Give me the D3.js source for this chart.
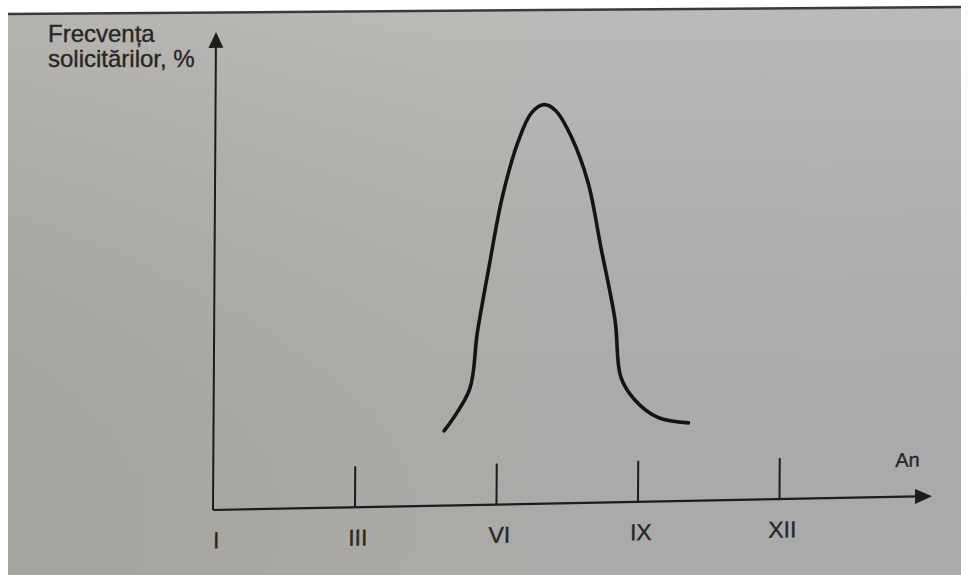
<!DOCTYPE html>
<html>
<head>
<meta charset="utf-8">
<script src="https://cdn.jsdelivr.net/npm/d3@7"></script>
<style>
  html, body { margin: 0; padding: 0; background: #fff; }
  svg { display: block; }
  text { font-family: "Liberation Sans", Arial, sans-serif; fill: #262626; stroke: #262626; stroke-width: 0.35px; }
</style>
</head>
<body>
<div id="chart"></div>
<script>
// tick labels (roman months) and their month numbers
const months = ['I', 'III', 'VI', 'IX', 'XII']
const monthNum = [1, 3, 6, 9, 12]

// curve: month -> request frequency (arbitrary %)
const curveMonth = [4.89, 5.42, 5.58, 5.82, 6.09, 6.43, 6.70, 6.96, 7.21, 7.55, 7.91, 8.19, 8.50, 8.63, 8.93, 9.42, 10.07]
const curveFreq = [15.9, 24.5, 36.6, 50.6, 65.3, 77.4, 83.2, 84.9, 83.6, 77.9, 68.1, 54.3, 38.7, 26.6, 21.7, 17.9, 16.6]

const width = 969, height = 575
const origin = { x: 213, y: 510 }
const step = 141.5          // ticks are evenly spaced, not linear in month
const xAxisLen = 719, yAxisLen = 478

const svg = d3.select('#chart').append('svg')
  .attr('width', width).attr('height', height)

/** photo background */
const defs = svg.append('defs')
const grad = defs.append('linearGradient').attr('id', 'paper')
  .attr('x1', 0).attr('x2', 1).attr('y1', 0).attr('y2', 0)
grad.append('stop').attr('offset', 0).attr('stop-color', '#acaaa4')
grad.append('stop').attr('offset', 0.45).attr('stop-color', '#b2b1ae')
grad.append('stop').attr('offset', 1).attr('stop-color', '#b1b1b4')
const shade = defs.append('linearGradient').attr('id', 'shade')
  .attr('x1', 0).attr('x2', 0).attr('y1', 0).attr('y2', 1)
shade.append('stop').attr('offset', 0).attr('stop-color', '#fff').attr('stop-opacity', 0.12)
shade.append('stop').attr('offset', 1).attr('stop-color', '#000').attr('stop-opacity', 0.04)

svg.append('rect').attr('width', width).attr('height', height).attr('fill', '#fff')
svg.append('path')
  .attr('d', 'M8,14 L961,7 L961,575 L8,575 Z')
  .attr('fill', 'url(#paper)')
svg.append('path')
  .attr('d', 'M8,14 L961,7 L961,575 L8,575 Z')
  .attr('fill', 'url(#shade)')
svg.append('path')
  .attr('d', 'M8,14 L961,7')
  .attr('stroke', '#3a3a3a').attr('stroke-width', 2.5)

/** chart group, slightly skewed like the photographed page */
const g = svg.append('g')
  .attr('transform', `translate(${origin.x},${origin.y}) skewY(-1.1) skewX(-0.36)`)

const x = d3.scaleLinear()
  .domain(monthNum)
  .range(monthNum.map((d, i) => i * step))

const y = d3.scaleLinear()
  .domain([0, 100])
  .range([0, -470])

// x axis with ticks pointing up, labels below
const xAxis = d3.axisBottom(x)
  .tickValues(monthNum)
  .tickFormat((d, i) => months[i])
  .tickSize(-41)
  .tickSizeOuter(0)
  .tickPadding(22)

const axisG = g.append('g').call(xAxis)
axisG.select('.domain').remove()
axisG.selectAll('.tick line')
  .attr('stroke', (d, i) => i === 0 ? 'none' : '#1c1c1c')
  .attr('stroke-width', 2)
axisG.selectAll('.tick text')
  .attr('font-size', 23)
  .attr('dx', 3)
  .attr('font-family', '"Liberation Sans", Arial, sans-serif')
  .attr('fill', '#262626')

// axis lines with arrows
g.append('line')
  .attr('x1', 0).attr('y1', 0).attr('x2', xAxisLen - 14).attr('y2', 0)
  .attr('stroke', '#1c1c1c').attr('stroke-width', 2.2)
g.append('path')
  .attr('d', `M${xAxisLen},0 L${xAxisLen - 17},-7.5 L${xAxisLen - 17},7.5 Z`)
  .attr('fill', '#1c1c1c')

g.append('line')
  .attr('x1', 0).attr('y1', 0).attr('x2', 0).attr('y2', -(yAxisLen - 12))
  .attr('stroke', '#1c1c1c').attr('stroke-width', 2)
g.append('path')
  .attr('d', `M0,${-yAxisLen} L-7.5,${-yAxisLen + 16} L7.5,${-yAxisLen + 16} Z`)
  .attr('fill', '#1c1c1c')

// axis titles
g.append('text')
  .attr('x', xAxisLen - 37).attr('y', -30)
  .attr('font-size', 20)
  .text('An')

svg.append('text')
  .attr('x', 48).attr('y', 42)
  .attr('font-size', 24)
  .text('Frecvența')
svg.append('text')
  .attr('x', 48).attr('y', 67)
  .attr('font-size', 24)
  .text('solicitărilor, %')

/** the seasonal curve */
const points = curveMonth.map((m, i) => ({ m, f: curveFreq[i] }))
const line = d3.line()
  .x(d => x(d.m))
  .y(d => y(d.f))
  .curve(d3.curveCatmullRom.alpha(0.5))

g.append('path')
  .datum(points)
  .attr('d', line)
  .attr('fill', 'none')
  .attr('stroke', '#141414')
  .attr('stroke-width', 3.6)
  .attr('stroke-linecap', 'round')
</script>
</body>
</html>
